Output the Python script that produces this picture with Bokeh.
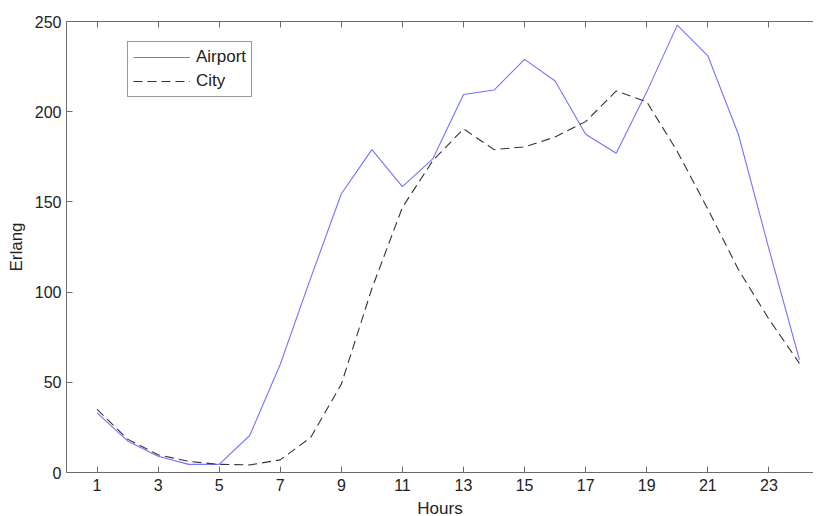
from bokeh.plotting import figure
from bokeh.models import Range1d, LinearAxis, FixedTicker, Legend, LegendItem, CustomJSTickFormatter
from bokeh.embed import file_html
from bokeh.resources import INLINE

hours = list(range(1, 25))
airport = [33, 17.5, 9, 4.5, 4.5, 20.5, 60, 108, 154.5, 179, 158.5, 174,
           209.5, 212, 229, 217, 187.5, 177, 211, 248, 231, 187.5, 124, 62.5]
city = [35, 18.5, 9.8, 6.2, 4.5, 4.2, 7, 19.5, 49, 102, 147, 173,
        190.5, 179, 180.5, 186, 194.5, 211.5, 205.5, 178, 146, 112.5, 85, 60.5]
x_ticks = list(range(1, 24, 2))
y_ticks = [0, 50, 100, 150, 200, 250]

FONT = "Liberation Sans"
AX = "#6a6a6a"
TXT = "#222222"

p = figure(width=813, height=522, output_backend="svg", toolbar_location=None,
           x_range=Range1d(0, 24.46), y_range=Range1d(0, 250),
           min_border_left=66, min_border_right=0, min_border_top=21,
           min_border_bottom=50, x_axis_type=None, y_axis_type=None)
p.outline_line_color = None
p.xgrid.visible = False
p.ygrid.visible = False

def style(ax):
    ax.axis_line_color = AX
    ax.major_tick_line_color = AX
    ax.major_tick_in = 6
    ax.major_tick_out = 0
    ax.minor_tick_line_color = None
    ax.major_label_text_font = FONT
    ax.major_label_text_font_size = "16px"
    ax.major_label_text_color = TXT
    ax.axis_label_text_font = FONT
    ax.axis_label_text_font_size = "17px"
    ax.axis_label_text_font_style = "normal"
    ax.axis_label_text_color = TXT

xb = LinearAxis(ticker=FixedTicker(ticks=x_ticks), axis_label="Hours")
style(xb)
xb.major_label_standoff = 6
xb.axis_label_standoff = 5
p.add_layout(xb, "below")

xt = LinearAxis(ticker=FixedTicker(ticks=x_ticks),
                formatter=CustomJSTickFormatter(code="return ''"))
style(xt)
xt.major_label_standoff = 0
p.add_layout(xt, "above")

yl = LinearAxis(ticker=FixedTicker(ticks=y_ticks), axis_label="Erlang")
style(yl)
yl.major_label_standoff = 5
yl.axis_label_standoff = 6
p.add_layout(yl, "left")

r1 = p.line(hours, airport, line_color="#7373ff", line_width=1.1)
r2 = p.line(hours, city, line_color="#333333", line_width=1.1, line_dash="9 5")

legend = Legend(items=[LegendItem(label="Airport", renderers=[r1]),
                       LegendItem(label="City", renderers=[r2])],
                location=(61, 375))
legend.label_text_font = FONT
legend.label_text_font_size = "17px"
legend.label_text_color = TXT
legend.glyph_width = 57
legend.glyph_height = 20
legend.label_height = 20
legend.label_standoff = 6
legend.spacing = 4
legend.padding = 5
legend.margin = 0
legend.border_line_color = "#333333"
legend.border_line_width = 1
legend.background_fill_color = "white"
p.add_layout(legend, "center")

open("out.html", "w").write(file_html(p, INLINE))
